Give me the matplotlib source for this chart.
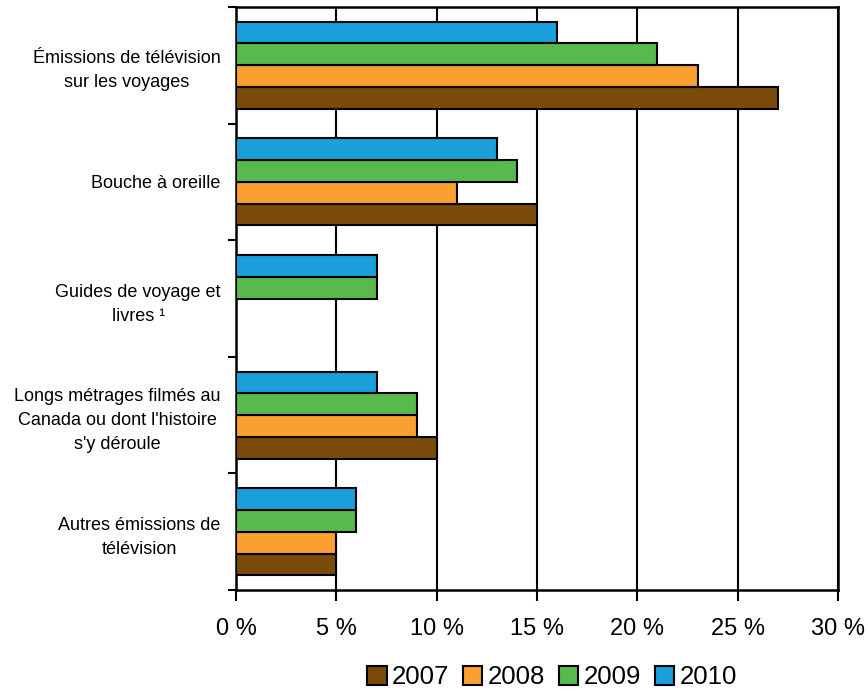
import numpy as np
import matplotlib.pyplot as plt
from matplotlib.patches import Patch
from matplotlib.ticker import FixedLocator, FuncFormatter

plt.rcParams['font.family'] = ['Liberation Sans', 'DejaVu Sans']

categories = [
    "Émissions de télévision\nsur les voyages",
    "Bouche à oreille",
    "Guides de voyage et\nlivres ¹",
    "Longs métrages filmés au\nCanada ou dont l'histoire\ns'y déroule",
    "Autres émissions de\ntélévision",
]
years = ['2007', '2008', '2009', '2010']
v2007 = [27, 15, np.nan, 10, 5]
v2008 = [23, 11, np.nan, 9, 5]
v2009 = [21, 14, 7, 9, 6]
v2010 = [16, 13, 7, 7, 6]
colors = ['#7a4a0b', '#f9a031', '#58b94c', '#1a9fdb']

fig = plt.figure(figsize=(8.68, 6.91), dpi=100)
ax = fig.add_axes([0.272, 0.146, 0.6934, 0.844])

y = np.arange(len(categories))
h = 0.187
series = [v2007, v2008, v2009, v2010]
offsets = [1.5, 0.5, -0.5, -1.5]
for vals, off, col in zip(series, offsets, colors):
    ax.barh(y + off * h, vals, height=h, color=col, edgecolor='black',
            linewidth=1.5, zorder=3)

ax.set_xlim(0, 30)
ax.set_ylim(len(categories) - 0.5, -0.5)

ax.set_xticks(np.arange(0, 31, 5))
ax.xaxis.set_major_formatter(FuncFormatter(lambda v, p: f'{int(v)} %'))
ax.grid(axis='x', color='black', linewidth=1.5, zorder=0)

ax.set_yticks(y)
ax.set_yticklabels(categories, multialignment='center', linespacing=1.55)
ax.yaxis.set_minor_locator(FixedLocator(np.arange(-0.5, len(categories), 1)))
ax.tick_params(axis='y', which='major', length=0, pad=11, labelsize=13)
ax.tick_params(axis='y', which='minor', length=6, width=1.5)
ax.tick_params(axis='x', length=8, width=1.5, pad=12, labelsize=17)

for s in ax.spines.values():
    s.set_linewidth(1.8)

handles = [Patch(facecolor=c, edgecolor='black', linewidth=1.5, label=yr)
           for c, yr in zip(colors, years)]
fig.legend(handles=handles, loc='center', bbox_to_anchor=(0.636, 0.02),
           ncol=4, frameon=False, fontsize=18.5, handlelength=0.75,
           handleheight=0.75, handletextpad=0.2, columnspacing=0.55)

fig.savefig('out.png', dpi=100)
